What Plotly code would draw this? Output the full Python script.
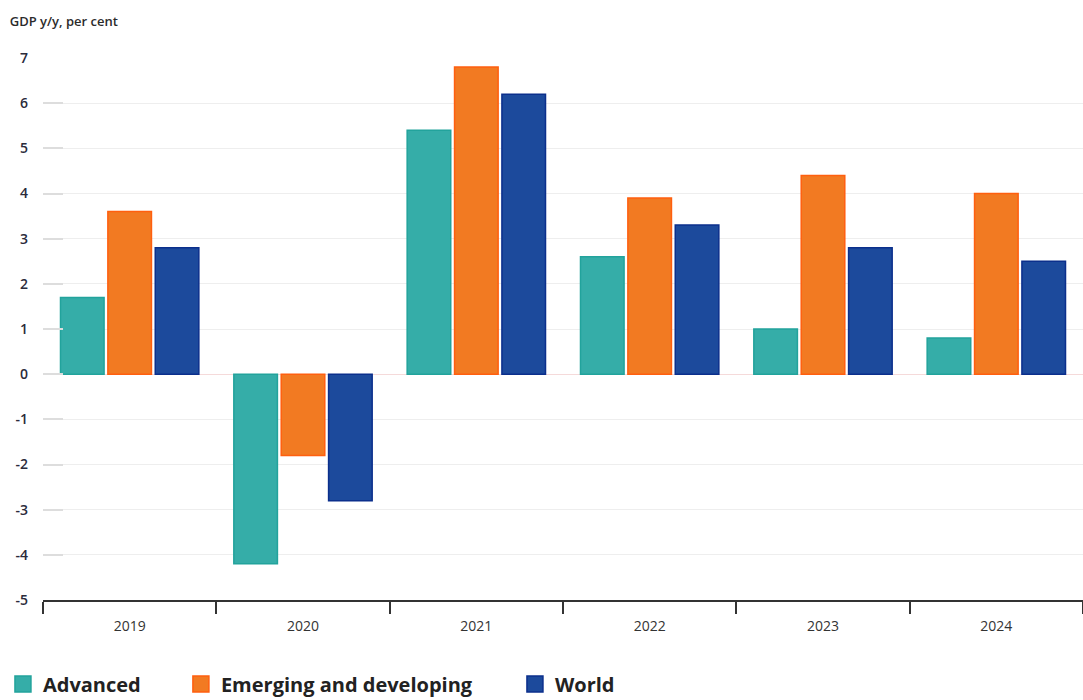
import plotly.graph_objects as go

years = ["2019", "2020", "2021", "2022", "2023", "2024"]
advanced = [1.7, -4.2, 5.4, 2.6, 1.0, 0.8]
emerging = [3.6, -1.8, 6.8, 3.9, 4.4, 4.0]
world = [2.8, -2.8, 6.2, 3.3, 2.8, 2.5]
y_ticks = list(range(-5, 8))
y_tick_text = [str(v) for v in y_ticks]

series = [
    ("Advanced", advanced, "#35ADA8", "#22A39C"),
    ("Emerging and developing", emerging, "#F27A22", "#FF5F0F"),
    ("World", world, "#1C4A9C", "#0B2F8C"),
]
legend_ids = ["legend", "legend2", "legend3"]
legend_x = [-0.0385, 0.1326, 0.4538]

fig = go.Figure()
for name, vals, fill, line in series:
    fig.add_trace(go.Bar(
        x=years, y=vals, name=name, showlegend=False,
        marker=dict(color=fill, line=dict(color=line, width=1.5)),
    ))
# legend proxies (larger square swatches), one legend each for exact placement
for (name, vals, fill, line), lid in zip(series, legend_ids):
    fig.add_trace(go.Scatter(
        x=[None], y=[None], mode="markers", name=name, legend=lid,
        marker=dict(symbol="square", size=16, color=fill, line=dict(color=line, width=1.5)),
    ))

legend_common = dict(
    orientation="h", xanchor="left", y=-0.119, yanchor="top",
    font=dict(size=20, color="#222222", family="Open Sans", weight=700),
    itemsizing="trace", bgcolor="rgba(0,0,0,0)",
)

fig.update_layout(
    width=1083, height=700,
    margin=dict(l=43, r=0, t=58, b=100, autoexpand=False),
    paper_bgcolor="white", plot_bgcolor="white",
    barmode="group", bargap=0.18, bargroupgap=0.08,
    font=dict(family="Open Sans", size=13, color="#333333"),
    title=dict(text="GDP y/y, per cent", x=0.009, xanchor="left", y=0.97, yanchor="middle",
               font=dict(size=13, color="#2b2b2b", weight=600)),
    showlegend=True,
    legend=dict(x=legend_x[0], **legend_common),
    legend2=dict(x=legend_x[1], **legend_common),
    legend3=dict(x=legend_x[2], **legend_common),
)
fig.update_xaxes(
    showline=True, linecolor="#333333", linewidth=2,
    ticks="outside", ticklen=12, tickwidth=2, tickcolor="#333333",
    tickson="boundaries", showgrid=False, ticklabelstandoff=12,
    tickfont=dict(size=14, color="#333333"),
)
fig.update_yaxes(
    range=[-5, 7], tickvals=y_ticks, ticktext=y_tick_text,
    showgrid=True, gridcolor="#EEEEEE", gridwidth=1,
    zeroline=True, zerolinecolor="#F5DADA", zerolinewidth=1,
    ticks="inside", ticklen=20, tickcolor="#DDDDDD", tickwidth=2,
    showline=False, ticklabelstandoff=14,
    tickfont=dict(size=14, color="#2b2b3b", weight=600),
)

fig.write_html("out.html")
